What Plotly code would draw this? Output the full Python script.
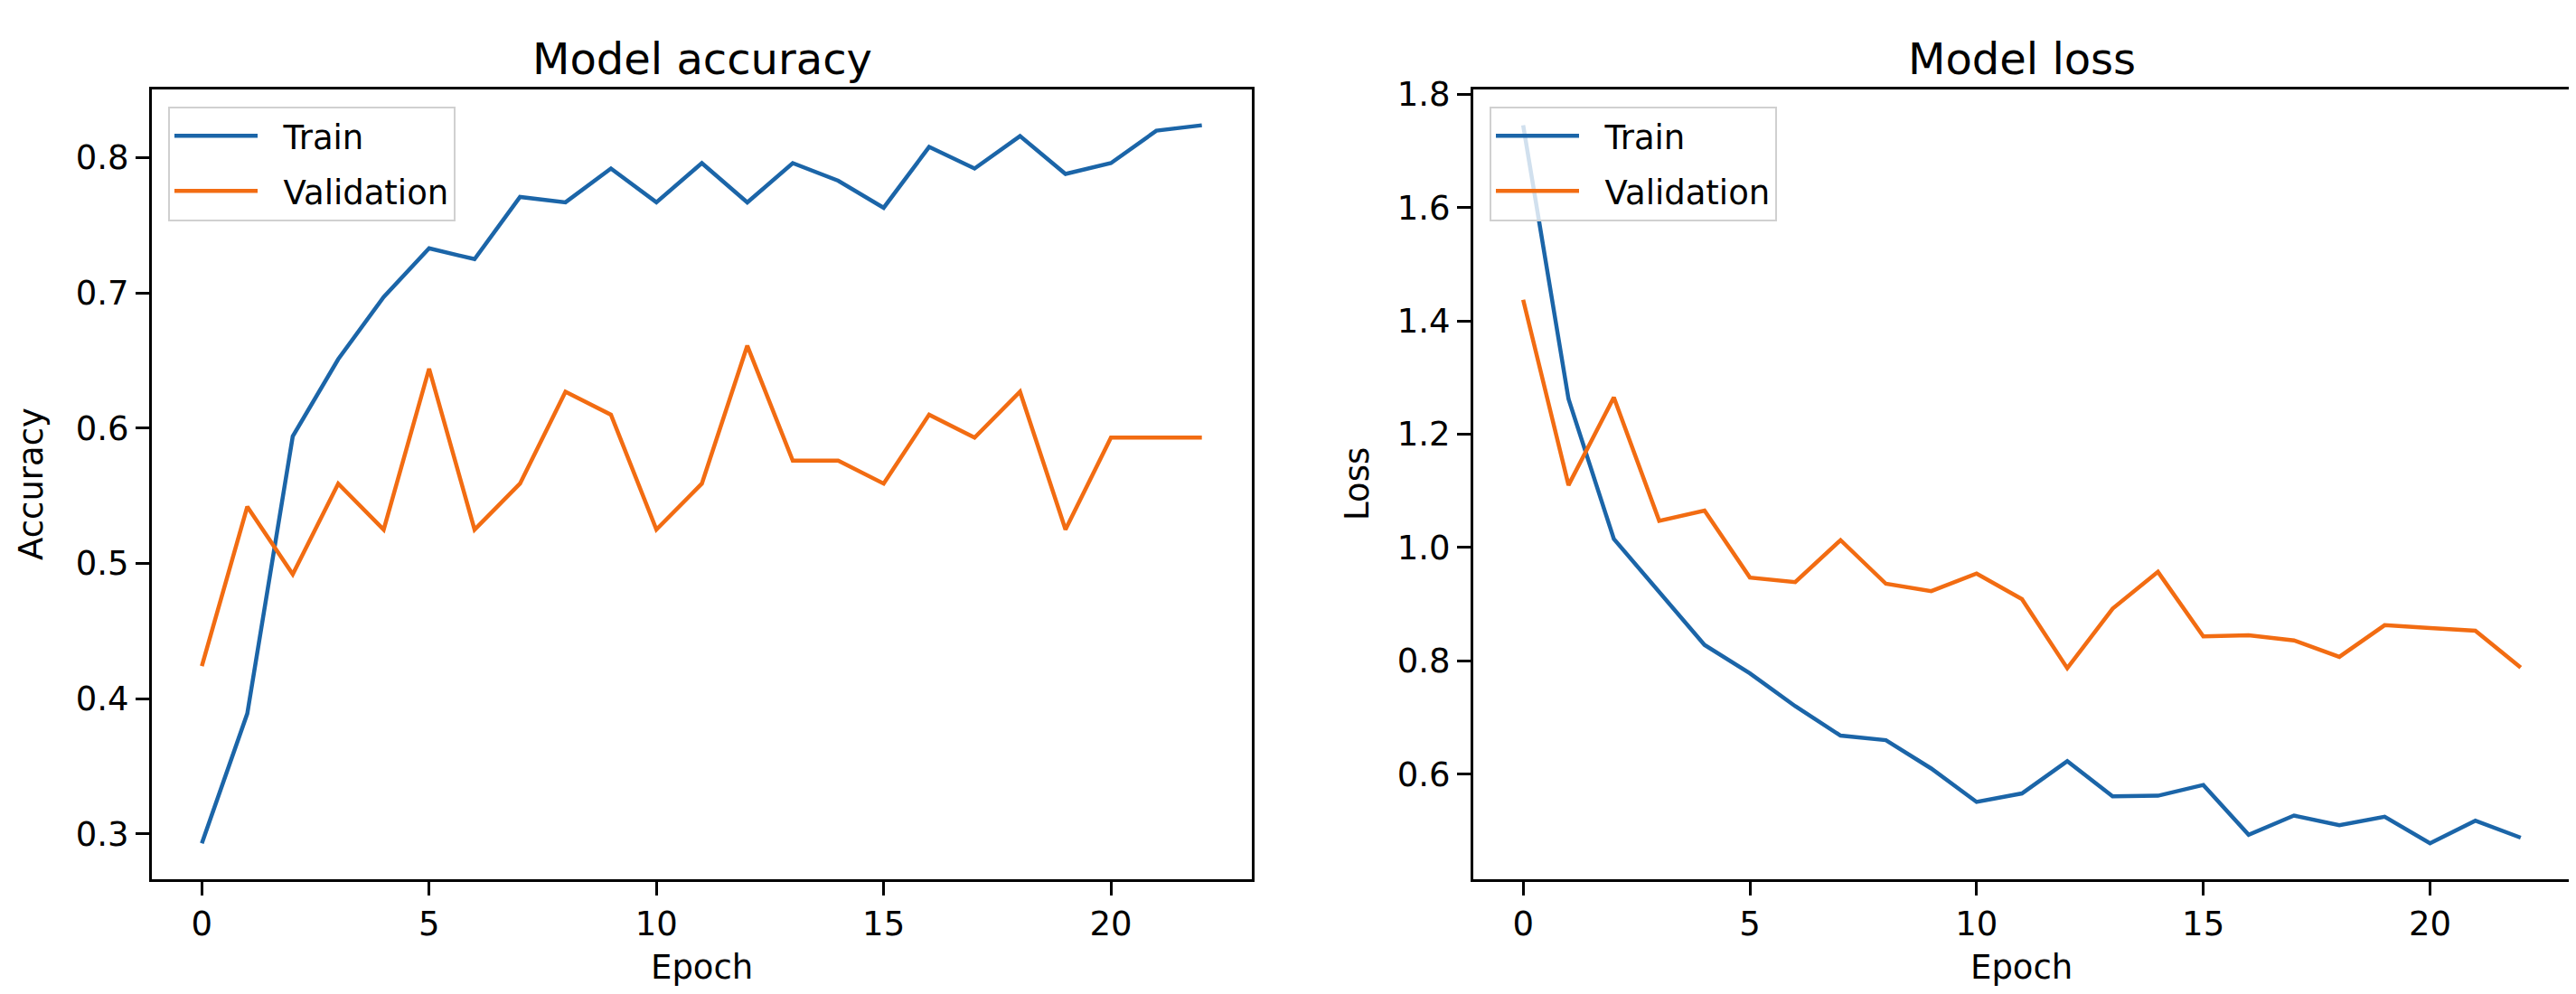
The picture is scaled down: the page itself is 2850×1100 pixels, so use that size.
import plotly.graph_objects as go

# ---------------- data ----------------
epochs = list(range(23))

train_acc = [0.293, 0.389, 0.594, 0.651, 0.697, 0.733, 0.725, 0.771, 0.767, 0.792,
             0.767, 0.796, 0.767, 0.796, 0.783, 0.763, 0.808, 0.792, 0.816, 0.788,
             0.796, 0.820, 0.824]
val_acc = [0.424, 0.542, 0.492, 0.559, 0.525, 0.644, 0.525, 0.559, 0.627, 0.610,
           0.525, 0.559, 0.661, 0.576, 0.576, 0.559, 0.610, 0.593, 0.627, 0.525,
           0.593, 0.593, 0.593]

train_loss = [1.745, 1.262, 1.015, 0.922, 0.828, 0.778, 0.720, 0.668, 0.660, 0.610,
              0.551, 0.566, 0.623, 0.561, 0.562, 0.581, 0.493, 0.527, 0.510, 0.525,
              0.478, 0.518, 0.488]
val_loss = [1.437, 1.110, 1.265, 1.047, 1.065, 0.947, 0.939, 1.013, 0.936, 0.923,
            0.954, 0.909, 0.787, 0.892, 0.957, 0.843, 0.845, 0.836, 0.807, 0.863,
            0.858, 0.853, 0.788]

series_names = ["Train", "Validation"]
panel_titles = ["Model accuracy", "Model loss"]
y_labels = ["Accuracy", "Loss"]
x_label = "Epoch"

# ---------------- style ----------------
W, H = 2850, 1100
BLUE = "#1b65a8"
ORANGE = "#f26c12"
FONT = "DejaVu Sans"
TICK_SIZE = 37
TITLE_SIZE = 48
GAP = "\u00a0\u00a0"  # spacing between legend line and its label


def pad_range(vals, frac=0.05):
    lo, hi = min(vals), max(vals)
    p = (hi - lo) * frac
    return [lo - p, hi + p]


xr = pad_range(epochs)
yr_acc = pad_range(train_acc + val_acc)
yr_loss = pad_range(train_loss + val_loss)

# axes domains (paper fractions)
x1 = [160 / W, 1377 / W]
x2 = [1622 / W, 2836 / W]
yd = [1 - 963 / H, 1 - 76 / H]

fig = go.Figure()

fig.add_trace(go.Scatter(x=epochs, y=train_acc, mode="lines", name=GAP + series_names[0],
                         line=dict(color=BLUE, width=4.5), xaxis="x", yaxis="y",
                         legend="legend", legendgroup="a1"))
fig.add_trace(go.Scatter(x=epochs, y=val_acc, mode="lines", name=GAP + series_names[1],
                         line=dict(color=ORANGE, width=4.5), xaxis="x", yaxis="y",
                         legend="legend", legendgroup="a2"))
fig.add_trace(go.Scatter(x=epochs, y=train_loss, mode="lines", name=GAP + series_names[0],
                         line=dict(color=BLUE, width=4.5), xaxis="x2", yaxis="y2",
                         legend="legend2", legendgroup="b1"))
fig.add_trace(go.Scatter(x=epochs, y=val_loss, mode="lines", name=GAP + series_names[1],
                         line=dict(color=ORANGE, width=4.5), xaxis="x2", yaxis="y2",
                         legend="legend2", legendgroup="b2"))

axis_common = dict(showline=True, linecolor="black", linewidth=3, mirror=True,
                   showgrid=False, zeroline=False, ticks="outside", ticklen=15,
                   tickwidth=3, tickcolor="black",
                   tickfont=dict(family=FONT, size=TICK_SIZE, color="black"))

legend_common = dict(font=dict(family=FONT, size=TICK_SIZE, color="black"),
                     bgcolor="rgba(255,255,255,0.8)", bordercolor="#d0d0d0",
                     borderwidth=2, xanchor="left", yanchor="top",
                     tracegroupgap=10, itemwidth=92)

fig.update_layout(
    width=W, height=H,
    margin=dict(l=0, r=0, t=0, b=0),
    paper_bgcolor="white", plot_bgcolor="white",
    font=dict(family=FONT, color="black"),
    xaxis=dict(domain=x1, range=xr, dtick=5, tick0=0, anchor="y", **axis_common),
    yaxis=dict(domain=yd, range=yr_acc, dtick=0.1, tick0=0, tickformat=".1f",
               anchor="x", **axis_common),
    xaxis2=dict(domain=x2, range=xr, dtick=5, tick0=0, anchor="y2", **axis_common),
    yaxis2=dict(domain=yd, range=yr_loss, dtick=0.2, tick0=0, tickformat=".1f",
                anchor="x2", **axis_common),
    legend=dict(x=178 / W, y=1 - 95 / H, **legend_common),
    legend2=dict(x=1640 / W, y=1 - 95 / H, **legend_common),
)

annotations = []
for dom, t, yl, ylx in [(x1, panel_titles[0], y_labels[0], 27 / W),
                        (x2, panel_titles[1], y_labels[1], 1494 / W)]:
    cx = (dom[0] + dom[1]) / 2
    annotations.append(dict(text=t, x=cx, y=yd[1], xref="paper", yref="paper",
                            xanchor="center", yanchor="bottom", yshift=4,
                            showarrow=False,
                            font=dict(family=FONT, size=TITLE_SIZE, color="black")))
    annotations.append(dict(text=x_label, x=cx, y=1 - 1062 / H, xref="paper",
                            yref="paper", xanchor="center", yanchor="middle",
                            showarrow=False,
                            font=dict(family=FONT, size=TICK_SIZE, color="black")))
    annotations.append(dict(text=yl, x=ylx, y=(yd[0] + yd[1]) / 2, xref="paper",
                            yref="paper", xanchor="center", yanchor="middle",
                            textangle=-90, showarrow=False,
                            font=dict(family=FONT, size=TICK_SIZE, color="black")))
fig.update_layout(annotations=annotations)

fig.write_html("out.html")
